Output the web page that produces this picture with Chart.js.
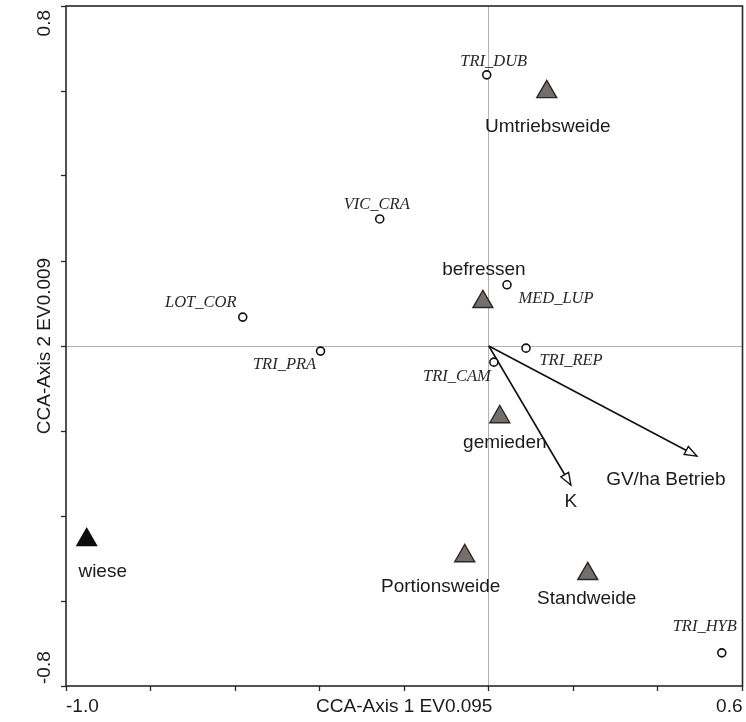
<!DOCTYPE html>
<html lang="de">
<head>
    <meta charset="UTF-8">
    <title>CCA Ordination</title>
    <script src="https://cdn.jsdelivr.net/npm/chart.js"></script>
    <style>
        html, body {
            margin: 0;
            padding: 0;
            background: #fff;
        }
        #wrap {
            width: 746px;
            height: 722px;
            position: relative;
        }
    </style>
</head>
<body>
    <div id="wrap"><canvas id="cca"></canvas></div>

    <script>
        // species scores (circles)
        const speciesNames = ['TRI_DUB', 'VIC_CRA', 'LOT_COR', 'TRI_PRA', 'MED_LUP', 'TRI_REP', 'TRI_CAM', 'TRI_HYB'];
        const speciesX = [-0.005, -0.258, -0.582, -0.398, 0.043, 0.088, 0.012, 0.551];
        const speciesY = [0.638, 0.299, 0.068, -0.012, 0.144, -0.005, -0.038, -0.722];

        // nominal variables (grey triangles)
        const sampleNames = ['Umtriebsweide', 'befressen', 'gemieden', 'Portionsweide', 'Standweide'];
        const sampleX = [0.137, -0.014, 0.026, -0.057, 0.234];
        const sampleY = [0.598, 0.104, -0.167, -0.494, -0.536];

        // black triangle
        const meadowNames = ['wiese'];
        const meadowX = [-0.951];
        const meadowY = [-0.456];

        // environmental arrows
        const envNames = ['K', 'GV/ha Betrieb'];
        const envX = [0.194, 0.492];
        const envY = [-0.327, -0.259];

        // axes
        const xLimits = [-1.0, 0.6];
        const yLimits = [-0.8, 0.8];
        const tickStep = 0.2;
        const xTitle = 'CCA-Axis 1 EV0.095';
        const yTitle = 'CCA-Axis 2 EV0.009';

        // label placement (pixel offsets from the marker)
        const speciesOffsets = [[7, -13], [-3, -14], [-42, -14], [-36, 14], [49, 14], [45, 13], [-37, 15], [-17, -26]];
        const sampleOffsets = [[1, 35], [1, -32], [5, 26], [-24, 31], [-1, 25]];
        const meadowOffsets = [[16, 32]];
        const envOffsets = [[0, 17], [-31, 24]];

        const ink = '#1c1a1a';
        const sansFont = '19px "Liberation Sans", Arial, sans-serif';
        const serifFont = 'italic 16.5px "Liberation Serif", "Times New Roman", serif';
        const axisFont = '19px "Liberation Sans", Arial, sans-serif';

        const toPoints = (xs, ys) => xs.map((x, i) => ({ x: x, y: ys[i] }));

        const datasets = [
            {
                label: 'species',
                data: toPoints(speciesX, speciesY),
                pointStyle: 'circle',
                pointRadius: 4,
                pointBackgroundColor: '#fff',
                pointBorderColor: '#111',
                pointBorderWidth: 1.6,
                names: speciesNames,
                offsets: speciesOffsets,
                font: serifFont,
                textColor: '#2a2626'
            },
            {
                label: 'samples',
                data: toPoints(sampleX, sampleY),
                pointStyle: 'triangle',
                pointRadius: 11.5,
                pointBackgroundColor: '#756f6c',
                pointBorderColor: '#2a2626',
                pointBorderWidth: 1.4,
                names: sampleNames,
                offsets: sampleOffsets,
                font: sansFont,
                textColor: ink
            },
            {
                label: 'wiese',
                data: toPoints(meadowX, meadowY),
                pointStyle: 'triangle',
                pointRadius: 11.5,
                pointBackgroundColor: '#0c0c0c',
                pointBorderColor: '#0c0c0c',
                pointBorderWidth: 1.2,
                names: meadowNames,
                offsets: meadowOffsets,
                font: sansFont,
                textColor: ink
            }
        ];

        envX.forEach((x, i) => {
            datasets.push({
                label: envNames[i],
                data: [{ x: 0, y: 0 }, { x: x, y: envY[i] }],
                showLine: true,
                borderColor: '#111',
                borderWidth: 1.6,
                pointRadius: 0,
                arrow: true,
                names: [null, envNames[i]],
                offsets: [null, envOffsets[i]],
                font: sansFont,
                textColor: ink
            });
        });

        const ordinationPlugin = {
            id: 'ordination',
            afterDatasetsDraw(chart) {
                const ctx = chart.ctx;
                ctx.save();
                chart.data.datasets.forEach((ds, di) => {
                    const meta = chart.getDatasetMeta(di);
                    if (ds.arrow) {
                        const p0 = meta.data[0], p1 = meta.data[1];
                        const ang = Math.atan2(p1.y - p0.y, p1.x - p0.x);
                        const len = 12, half = 4.5;
                        const bx = p1.x - Math.cos(ang) * len;
                        const by = p1.y - Math.sin(ang) * len;
                        ctx.beginPath();
                        ctx.moveTo(p1.x, p1.y);
                        ctx.lineTo(bx - Math.sin(ang) * half, by + Math.cos(ang) * half);
                        ctx.lineTo(bx + Math.sin(ang) * half, by - Math.cos(ang) * half);
                        ctx.closePath();
                        ctx.fillStyle = '#fff';
                        ctx.fill();
                        ctx.lineWidth = 1.4;
                        ctx.strokeStyle = '#111';
                        ctx.stroke();
                    }
                    // labels
                    ctx.font = ds.font;
                    ctx.fillStyle = ds.textColor;
                    ctx.textAlign = 'center';
                    ctx.textBaseline = 'middle';
                    meta.data.forEach((pt, i) => {
                        const name = ds.names[i];
                        if (!name) return;
                        const off = ds.offsets[i];
                        ctx.fillText(name, pt.x + off[0], pt.y + off[1]);
                    });
                });
                ctx.restore();
            },
            afterDraw(chart) {
                const ctx = chart.ctx;
                const a = chart.chartArea;
                ctx.save();
                // frame
                ctx.strokeStyle = '#2b2626';
                ctx.lineWidth = 1.6;
                ctx.strokeRect(a.left, a.top, a.right - a.left, a.bottom - a.top);

                // axis text
                ctx.fillStyle = ink;
                ctx.font = axisFont;
                ctx.textBaseline = 'middle';
                ctx.textAlign = 'left';
                ctx.fillText(xLimits[0].toFixed(1), a.left, a.bottom + 21);
                ctx.textAlign = 'right';
                ctx.fillText(xLimits[1].toFixed(1), a.right, a.bottom + 21);
                ctx.textAlign = 'center';
                ctx.fillText(xTitle, (a.left + a.right) / 2, a.bottom + 21);

                ctx.translate(45, 0);
                ctx.rotate(-Math.PI / 2);
                ctx.textAlign = 'right';
                ctx.fillText(yLimits[1].toFixed(1), -(a.top + 4), 0);
                ctx.textAlign = 'left';
                ctx.fillText(yLimits[0].toFixed(1), -(a.bottom - 2), 0);
                ctx.textAlign = 'center';
                ctx.fillText(yTitle, -(a.top + a.bottom) / 2, 0);
                ctx.restore();
            }
        };

        const zeroGrid = {
            drawOnChartArea: true,
            drawTicks: true,
            tickLength: 5,
            tickWidth: 1.3,
            tickColor: '#2b2626',
            lineWidth: 1,
            color: c => (c.tick && Math.abs(c.tick.value) < 1e-9) ? '#b9b0ab' : 'rgba(0,0,0,0)'
        };

        new Chart(document.getElementById('cca'), {
            type: 'scatter',
            data: { datasets: datasets },
            options: {
                responsive: true,
                maintainAspectRatio: false,
                animation: false,
                layout: { autoPadding: false, padding: { top: 6, right: 3.5, left: 0, bottom: 0 } },
                plugins: {
                    legend: { display: false },
                    tooltip: { enabled: false }
                },
                scales: {
                    x: {
                        type: 'linear',
                        min: xLimits[0],
                        max: xLimits[1],
                        ticks: { stepSize: tickStep, display: false },
                        grid: zeroGrid,
                        border: { display: false },
                        afterFit: s => { s.height = 36; }
                    },
                    y: {
                        type: 'linear',
                        min: yLimits[0],
                        max: yLimits[1],
                        ticks: { stepSize: tickStep, display: false },
                        grid: zeroGrid,
                        border: { display: false },
                        afterFit: s => { s.width = 66; }
                    }
                }
            },
            plugins: [ordinationPlugin]
        });
    </script>
</body>
</html>
